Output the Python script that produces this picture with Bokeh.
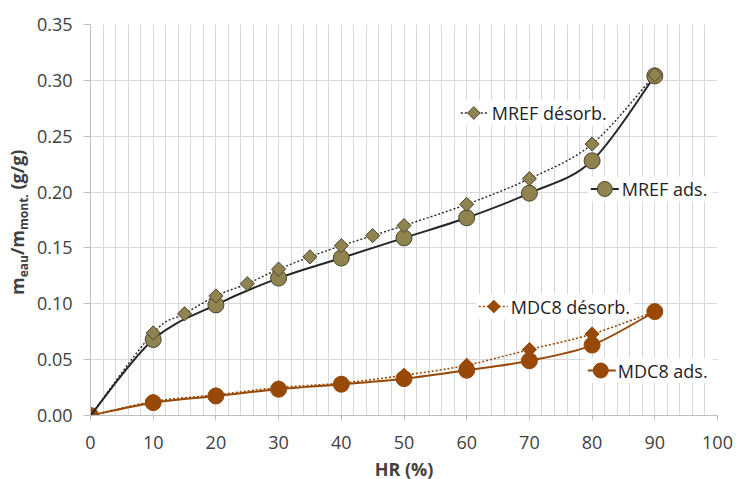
import math
from bokeh.plotting import figure
from bokeh.models import Range1d, FixedTicker, NumeralTickFormatter, Label, Div
from bokeh.layouts import row
from bokeh.embed import file_html
from bokeh.resources import INLINE

# ---------------- data ----------------
hr_mref_ads = [0, 10, 20, 30, 40, 50, 60, 70, 80, 90]
mref_ads = [0.000, 0.068, 0.099, 0.123, 0.141, 0.159, 0.177, 0.199, 0.228, 0.304]

hr_mref_des = [0, 10, 15, 20, 25, 30, 35, 40, 45, 50, 60, 70, 80, 90]
mref_des = [0.000, 0.074, 0.091, 0.107, 0.118, 0.131, 0.142, 0.152, 0.161, 0.170, 0.189, 0.212, 0.243, 0.305]

hr_mdc8 = [0, 10, 20, 30, 40, 50, 60, 70, 80, 90]
mdc8_ads = [0.000, 0.0115, 0.0175, 0.0235, 0.028, 0.033, 0.0405, 0.049, 0.063, 0.093]
mdc8_des = [0.000, 0.0125, 0.0185, 0.025, 0.029, 0.036, 0.045, 0.059, 0.073, 0.093]

x_ticks = [0, 10, 20, 30, 40, 50, 60, 70, 80, 90, 100]
x_minor = list(range(0, 101, 2))
y_ticks = [0.00, 0.05, 0.10, 0.15, 0.20, 0.25, 0.30, 0.35]

labels = ["MREF désorb.", "MREF ads.", "MDC8 désorb.", "MDC8 ads."]

# ---------------- styles ----------------
OLIVE = "#8F8350"
OLIVE_EDGE = "#4A452A"
DARK = "#262626"
RUST = "#984807"
GRID = "#D9D9D9"
AXIS = "#BFBFBF"
TXT = "#404040"
FONT = "Open Sans"

DIV_W = 23
FL, FB = 89.7, 415.0  # frame left / bottom in page pixels (reference)
FW, FH = 627, 391


def dx(px):
    return (px - FL) * 100.0 / FW


def dy(py):
    return (FB - py) * 0.35 / FH


def smooth(xs, ys):
    n = len(xs)
    x0, y0, x1, y1, cx0, cy0, cx1, cy1 = [], [], [], [], [], [], [], []
    for i in range(n - 1):
        a = i - 1 if i > 0 else i
        d = i + 2 if i + 2 < n else i + 1
        x0.append(xs[i]); y0.append(ys[i])
        x1.append(xs[i + 1]); y1.append(ys[i + 1])
        cx0.append(xs[i] + (xs[i + 1] - xs[a]) / 6.0)
        cy0.append(ys[i] + (ys[i + 1] - ys[a]) / 6.0)
        cx1.append(xs[i + 1] - (xs[d] - xs[i]) / 6.0)
        cy1.append(ys[i + 1] - (ys[d] - ys[i]) / 6.0)
    return dict(x0=x0, y0=y0, x1=x1, y1=y1, cx0=cx0, cy0=cy0, cx1=cx1, cy1=cy1)


p = figure(frame_width=FW, frame_height=FH,
           min_border_left=54, min_border_right=20, min_border_top=24, min_border_bottom=62,
           x_range=Range1d(0, 100), y_range=Range1d(0, 0.35),
           output_backend="svg", toolbar_location=None)
p.outline_line_color = None
p.background_fill_color = "white"
p.border_fill_color = None

p.xaxis.ticker = FixedTicker(ticks=x_ticks, minor_ticks=x_minor)
p.yaxis.ticker = FixedTicker(ticks=y_ticks)
p.yaxis.formatter = NumeralTickFormatter(format="0.00")
for ax in (p.xaxis, p.yaxis):
    ax.axis_line_color = AXIS
    ax.major_tick_line_color = AXIS
    ax.minor_tick_line_color = None
    ax.major_tick_in = 0
    ax.major_label_text_font = FONT
    ax.major_label_text_font_size = "18px"
    ax.major_label_text_color = TXT
p.xaxis.major_tick_out = 5
p.xaxis.major_label_standoff = 15
p.yaxis.major_tick_out = 7
p.yaxis.major_label_standoff = 11

p.xaxis.axis_label = "HR (%)"
p.xaxis.axis_label_text_font = FONT
p.xaxis.axis_label_text_font_size = "18px"
p.xaxis.axis_label_text_font_style = "bold"
p.xaxis.axis_label_text_color = TXT
p.xaxis.axis_label_standoff = 5

p.xgrid.grid_line_color = GRID
p.xgrid.minor_grid_line_color = GRID
p.ygrid.grid_line_color = GRID

# ---------------- series ----------------
s = smooth(hr_mdc8, mdc8_ads)
p.bezier(source=s, x0="x0", y0="y0", x1="x1", y1="y1", cx0="cx0", cy0="cy0", cx1="cx1", cy1="cy1",
         line_color=RUST, line_width=2)
p.scatter(hr_mdc8, mdc8_ads, marker="circle", size=16, fill_color=RUST, line_color=RUST)
s = smooth(hr_mdc8, mdc8_des)
p.bezier(source=s, x0="x0", y0="y0", x1="x1", y1="y1", cx0="cx0", cy0="cy0", cx1="cx1", cy1="cy1",
         line_color=RUST, line_width=1.6, line_dash="2 2")
p.scatter(hr_mdc8, mdc8_des, marker="square", angle=math.pi / 4, size=10, fill_color=RUST, line_color=RUST)

s = smooth(hr_mref_ads, mref_ads)
p.bezier(source=s, x0="x0", y0="y0", x1="x1", y1="y1", cx0="cx0", cy0="cy0", cx1="cx1", cy1="cy1",
         line_color=DARK, line_width=2)
s = smooth(hr_mref_des, mref_des)
p.bezier(source=s, x0="x0", y0="y0", x1="x1", y1="y1", cx0="cx0", cy0="cy0", cx1="cx1", cy1="cy1",
         line_color=DARK, line_width=1.4, line_dash="2 2")
p.scatter(hr_mref_ads[1:], mref_ads[1:], marker="circle", size=16, fill_color=OLIVE, line_color=OLIVE_EDGE)
p.scatter(hr_mref_des[1:], mref_des[1:], marker="square", angle=math.pi / 4, size=10,
          fill_color=OLIVE, line_color=OLIVE_EDGE)

# ---------------- in-plot labels (legend keys) ----------------
keys = [
    (labels[0], 456, 611, 460, 487, 473, 491, 112.5, DARK, "2 2", "diamond", OLIVE, OLIVE_EDGE),
    (labels[1], 587, 712, 590, 618, 604, 621, 188.5, DARK, "solid", "circle", OLIVE, OLIVE_EDGE),
    (labels[2], 475, 633, 478, 507, 493, 510, 306.0, RUST, "2 2", "diamond", RUST, RUST),
    (labels[3], 584, 712, 587, 615, 600, 617, 370.0, RUST, "solid", "circle", RUST, RUST),
]
for (txt, bl, br, l0, l1, mx, tx, ty, lc, dash, mk, fc, ec) in keys:
    p.quad(left=[dx(bl)], right=[dx(br)], bottom=[dy(ty + 12.5)], top=[dy(ty - 12.5)],
           fill_color="white", line_color=None)
    p.line([dx(l0), dx(l1)], [dy(ty), dy(ty)], line_color=lc, line_width=2 if dash == "solid" else 1.5,
           line_dash=dash)
    if mk == "diamond":
        p.scatter([dx(mx)], [dy(ty)], marker="square", angle=math.pi / 4, size=9, fill_color=fc, line_color=ec)
    else:
        p.scatter([dx(mx)], [dy(ty)], marker="circle", size=15, fill_color=fc, line_color=ec)
    p.add_layout(Label(x=dx(tx), y=dy(ty), text=txt, text_font=FONT, text_font_size="18px",
                       text_color="#1F1F1F", text_baseline="middle", text_align="left"))

# ---------------- y axis title (with subscripts) ----------------
sub = "font-size:12px; vertical-align:-4px;"
ylab = Div(
    text=(
        '<div style="position:absolute; left:0px; top:290px; transform-origin:0 0; '
        'transform:rotate(-90deg); white-space:nowrap; font-family:\'Open Sans\'; font-weight:bold; '
        f'font-size:18px; line-height:24px; color:{TXT};">'
        f'm<sub style="{sub}">eau</sub>/m<sub style="{sub}">mont.</sub> (g/g)</div>'
    ),
    width=DIV_W, height=477, styles={"overflow": "visible"},
)

layout = row(ylab, p)
open("out.html", "w").write(file_html(layout, INLINE))
